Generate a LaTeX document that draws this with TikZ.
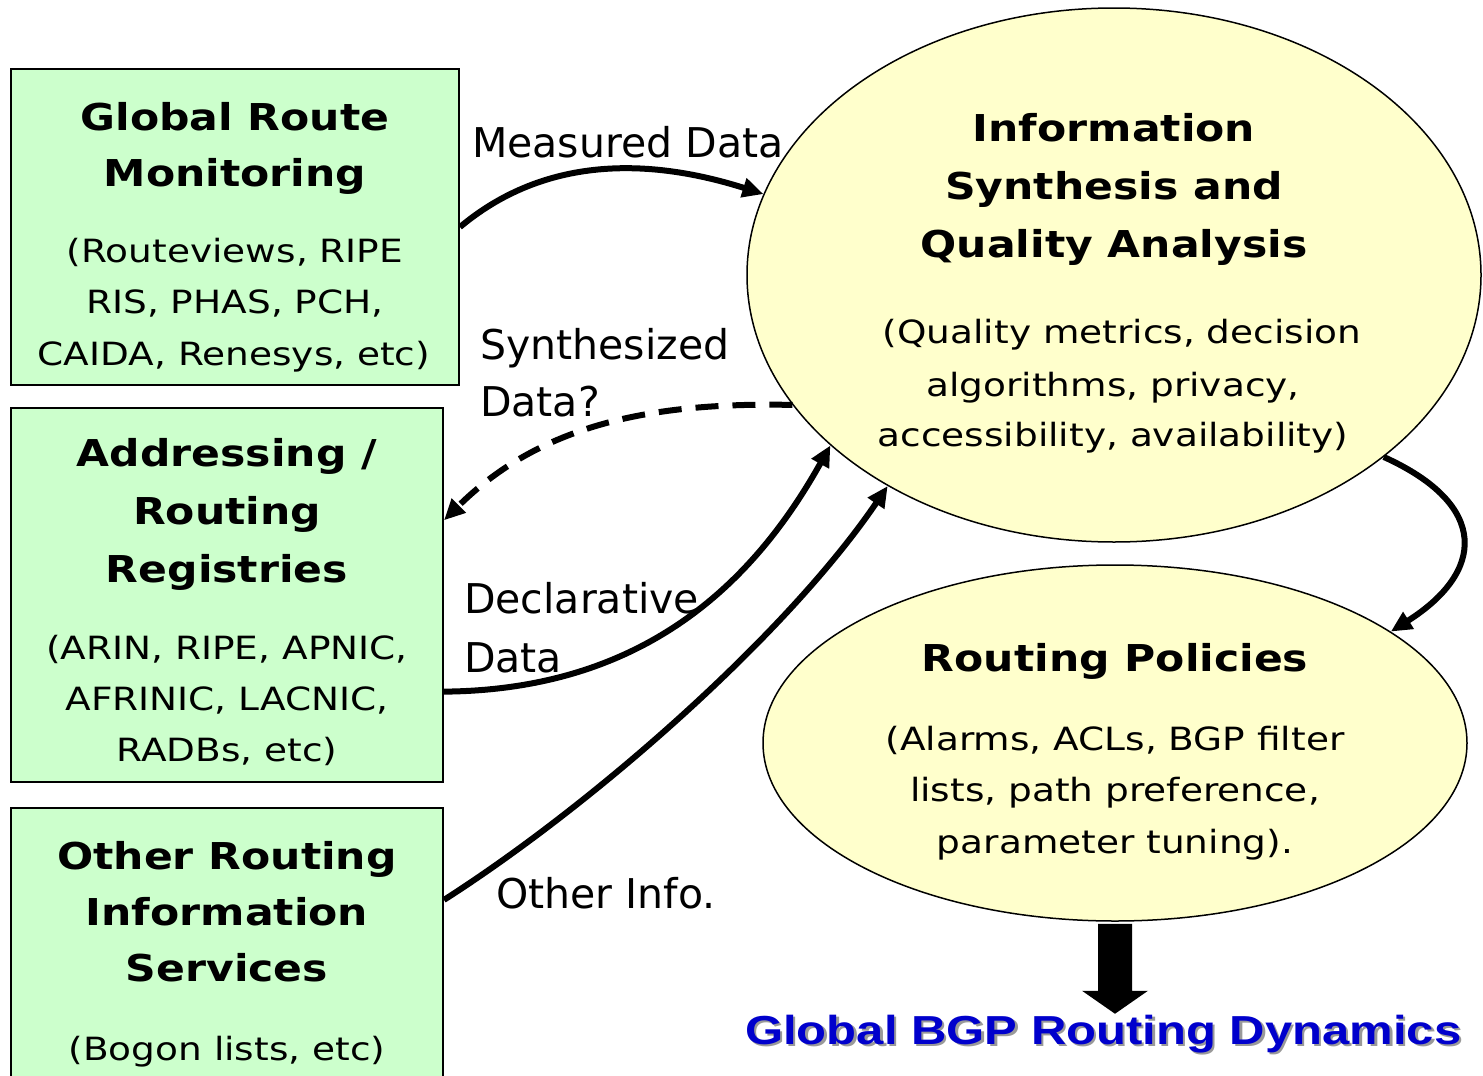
\documentclass[tikz,border=0pt]{standalone}
\usepackage{fontspec}
\setmainfont{DejaVu Sans}
\newfontfamily\bodyfont{DejaVu Sans}[FakeStretch=1.17]
\newfontfamily\headfont{DejaVu Sans}[FakeStretch=1.15]
\newfontfamily\labelfont{DejaVu Sans}
\newfontfamily\titlefont{Liberation Sans}[FakeStretch=1.21]
\usetikzlibrary{arrows.meta,shapes.geometric}
\definecolor{boxgreen}{HTML}{CCFFCC}
\definecolor{ellyellow}{HTML}{FFFFCC}
\definecolor{titleblue}{HTML}{0000CC}
\tikzset{
  srcbox/.style={draw=black, line width=2pt, fill=boxgreen, inner sep=0pt},
  topic/.style={ellipse, draw=black, line width=1.5pt, fill=ellyellow, inner sep=0pt},
  hd/.style={anchor=base, inner sep=0pt, font=\headfont\bfseries\fontsize{37}{44}\selectfont},
  bd/.style={anchor=base, inner sep=0pt, font=\bodyfont\fontsize{32}{38}\selectfont},
  lab/.style={anchor=base west, inner sep=0pt, font=\labelfont\fontsize{41}{50}\selectfont},
  conn/.style={line width=6pt, -{Triangle[length=21pt,width=19pt]}},
  dashconn/.style={conn, dash pattern=on 23pt off 14pt},
  ttlstyle/.style={anchor=base west, inner sep=0pt, font=\titlefont\bfseries\fontsize{40.5}{48}\selectfont}
}
\begin{document}
\begin{tikzpicture}[x=1pt,y=-1pt]
\useasboundingbox (0,0) rectangle (1483,1076);

% source boxes
\node[srcbox, minimum width=448, minimum height=316] (mon) at (235,227) {};
\node[srcbox, minimum width=432, minimum height=374] (reg) at (227,595) {};
\node[srcbox, minimum width=432, minimum height=292] (oth) at (227,954) {};

% analysis and policy ellipses
\node[topic, minimum width=734, minimum height=534] (syn) at (1114,275) {};
\node[topic, minimum width=704, minimum height=356] (pol) at (1115,743) {};

% box texts
\node[hd] (mon1) at (235,130) {Global Route};
\node[hd] (mon2) at (235,186) {Monitoring};
\node[bd] (mon3) at (235,262) {(Routeviews, RIPE};
\node[bd] (mon4) at (235,313) {RIS, PHAS, PCH,};
\node[bd] (mon5) at (234,365) {CAIDA, Renesys, etc)};

\node[hd] (reg1) at (227,466) {Addressing /};
\node[hd] (reg2) at (227,524) {Routing};
\node[hd] (reg3) at (227,582) {Registries};
\node[bd] (reg4) at (227,659) {(ARIN, RIPE, APNIC,};
\node[bd] (reg5) at (227,710) {AFRINIC, LACNIC,};
\node[bd] (reg6) at (227,761) {RADBs, etc)};

\node[hd] (oth1) at (227,869) {Other Routing};
\node[hd] (oth2) at (227,925) {Information};
\node[hd] (oth3) at (227,981) {Services};
\node[bd] (oth4) at (227,1060) {(Bogon lists, etc)};

% ellipse texts
\node[hd] (syn1) at (1114,141) {Information};
\node[hd] (syn2) at (1114,199) {Synthesis and};
\node[hd] (syn3) at (1114,257) {Quality Analysis};
\node[bd] (syn4) at (1122,343) {(Quality metrics, decision};
\node[bd] (syn5) at (1113,396) {algorithms, privacy,};
\node[bd] (syn6) at (1113,446) {accessibility, availability)};

\node[hd] (pol1) at (1115,671) {Routing Policies};
\node[bd] (pol2) at (1115,750) {(Alarms, ACLs, BGP filter};
\node[bd] (pol3) at (1115,801) {lists, path preference,};
\node[bd] (pol4) at (1115,853) {parameter tuning).};

% connector labels
\node[lab] (lmeas) at (472,157) {Measured Data};
\node[lab] (lsyn1) at (480,359) {Synthesized};
\node[lab] (lsyn2) at (480,416) {Data?};
\node[lab] (ldec1) at (464,613) {Declarative};
\node[lab] (ldec2) at (464,672) {Data};
\node[lab] (loth) at (496,908) {Other Info.};

% connectors
\draw[conn] (mon.east) .. controls (540,160) and (640,155) .. (syn.167);
\draw[dashconn] (syn.202) .. controls (650,402) and (540,425) .. (reg.19.85);
\draw[conn] (reg.-24.4) .. controls (643,690) and (753,584) .. (syn.211.8);
\draw[conn] (oth.14.04) .. controls (600,800) and (790,630) .. (syn.223.2);
\draw[conn] (syn.-34.2) .. controls (1490,505) and (1485,572) .. (pol.22.7);

% block arrow down to the outcome
\fill[black] (pol.south) ++(-17,2) -- ++(0,67) -- ++(-16,0) -- ++(33,23)
  -- ++(33,-23) -- ++(-16,0) -- ++(0,-67) -- cycle;

% outcome title with drop shadow
\node[ttlstyle, text=black!40] (ttlsh) at (747.5,1046.5) {Global BGP Routing Dynamics};
\node[ttlstyle, text=titleblue] (ttl) at (745,1044) {Global BGP Routing Dynamics};
\end{tikzpicture}
\end{document}
